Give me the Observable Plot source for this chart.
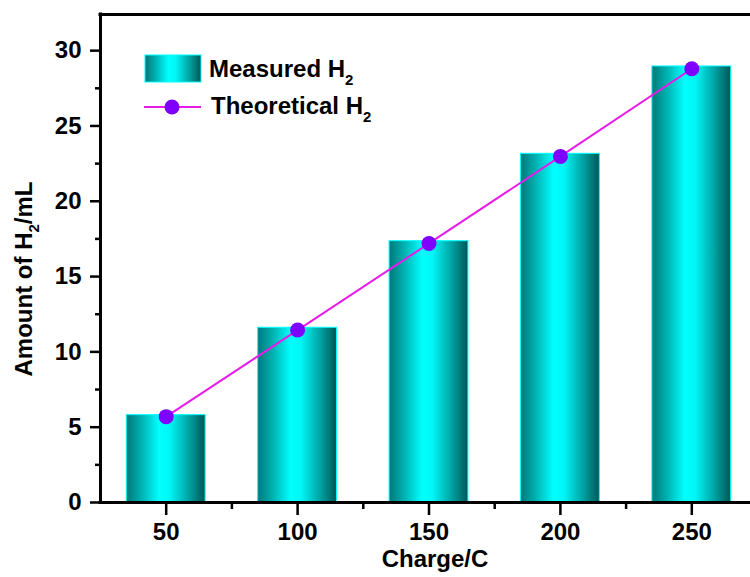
<!DOCTYPE html>
<html>
<head>
<meta charset="utf-8">
<script src="https://cdn.jsdelivr.net/npm/d3@7"></script>
<script src="https://cdn.jsdelivr.net/npm/@observablehq/plot@0.6"></script>
<style>
  html, body { margin: 0; padding: 0; background: #fff; }
  #chart svg { display: block; }
</style>
</head>
<body>
<div id="chart"></div>
<script>
// Hydrogen produced versus charge passed
const charges = [50, 100, 150, 200, 250];
const measured = [5.8, 11.6, 17.35, 23.15, 28.95];
const theoretical = [5.7, 11.45, 17.2, 22.98, 28.8];
const yTicks = [0, 5, 10, 15, 20, 25, 30];
const yMinorTicks = [2.5, 7.5, 12.5, 17.5, 22.5, 27.5];
const xMinorTicks = [75, 125, 175, 225];
const barHalfWidth = 15;

const table = charges.map((c, i) => ({charge: c, measured: measured[i], theoretical: theoretical[i]}));

const font = "'Liberation Sans', Arial, Helvetica, sans-serif";

const svg = Plot.plot({
  width: 750,
  height: 577,
  marginLeft: 100,
  marginRight: 0,
  marginTop: 14,
  marginBottom: 75,
  style: {fontFamily: font, fontWeight: "bold", color: "#000", background: "#fff"},
  x: {domain: [25, 275], range: [100, 757]},
  y: {domain: [0, 32.4], range: [502, 14]},
  marks: [
    Plot.rectY(table, {
      x1: d => d.charge - barHalfWidth,
      x2: d => d.charge + barHalfWidth,
      y: "measured",
      fill: "url(#barShade)",
      stroke: "#00ffff",
      strokeWidth: 1
    }),
    Plot.line(table, {x: "charge", y: "theoretical", stroke: "#e81ce8", strokeWidth: 2}),
    Plot.dot(table, {x: "charge", y: "theoretical", r: 7.5, fill: "#7f00ff", stroke: "none"}),
    // axis frame
    Plot.ruleY([0, 32.4], {stroke: "#000", strokeWidth: 3, strokeLinecap: "square"}),
    Plot.ruleX([25], {stroke: "#000", strokeWidth: 3, strokeLinecap: "square"}),
    // y axis
    Plot.axisY({ticks: yTicks, tickSize: 10, tickPadding: 9, strokeWidth: 2.5, fontSize: 24, fontWeight: "bold", label: null}),
    Plot.axisY({ticks: yMinorTicks, tickSize: 5, strokeWidth: 2.5, text: null, label: null}),
    // x axis
    Plot.axisX({ticks: charges, tickSize: 13, tickPadding: 7, strokeWidth: 2.5, fontSize: 24, fontWeight: "bold", label: null}),
    Plot.axisX({ticks: xMinorTicks, tickSize: 7, strokeWidth: 2.5, text: null, label: null})
  ]
});

const root = d3.select(svg);

// horizontal cylinder shading for the bars
const grad = root.insert("defs", ":first-child")
  .append("linearGradient")
  .attr("id", "barShade")
  .attr("x1", "0").attr("x2", "1").attr("y1", "0").attr("y2", "0");
[
  [0, "#007878"],
  [0.2, "#00b4b4"],
  [0.42, "#00ffff"],
  [0.55, "#00f6f6"],
  [0.8, "#00a0a0"],
  [1, "#005656"]
].forEach(([o, c]) => grad.append("stop").attr("offset", o).attr("stop-color", c));

const g = root.append("g")
  .attr("font-family", font)
  .attr("font-weight", "bold")
  .attr("text-anchor", "start")
  .attr("fill", "#000");

// axis titles
const yTitle = g.append("text")
  .attr("transform", "translate(32,279) rotate(-90)")
  .attr("text-anchor", "middle")
  .attr("font-size", 24);
yTitle.append("tspan").text("Amount of H");
yTitle.append("tspan").attr("font-size", 15).attr("dy", 7).text("2");
yTitle.append("tspan").attr("dy", -7).text("/mL");

g.append("text")
  .attr("x", 435)
  .attr("y", 567)
  .attr("text-anchor", "middle")
  .attr("font-size", 24)
  .text("Charge/C");

// legend
g.append("rect")
  .attr("x", 145).attr("y", 55).attr("width", 56).attr("height", 27)
  .attr("fill", "url(#barShade)").attr("stroke", "#00ffff").attr("stroke-width", 1);
const t1 = g.append("text").attr("x", 209).attr("y", 77).attr("font-size", 24);
t1.append("tspan").text("Measured H");
t1.append("tspan").attr("font-size", 15).attr("dy", 8).text("2");

g.append("line")
  .attr("x1", 144).attr("x2", 201).attr("y1", 107).attr("y2", 107)
  .attr("stroke", "#e81ce8").attr("stroke-width", 2);
g.append("circle")
  .attr("cx", 172).attr("cy", 107).attr("r", 7.5).attr("fill", "#7f00ff");
const t2 = g.append("text").attr("x", 211).attr("y", 114).attr("font-size", 24);
t2.append("tspan").text("Theoretical H");
t2.append("tspan").attr("font-size", 15).attr("dy", 8).text("2");

document.getElementById("chart").appendChild(svg);
</script>
</body>
</html>
